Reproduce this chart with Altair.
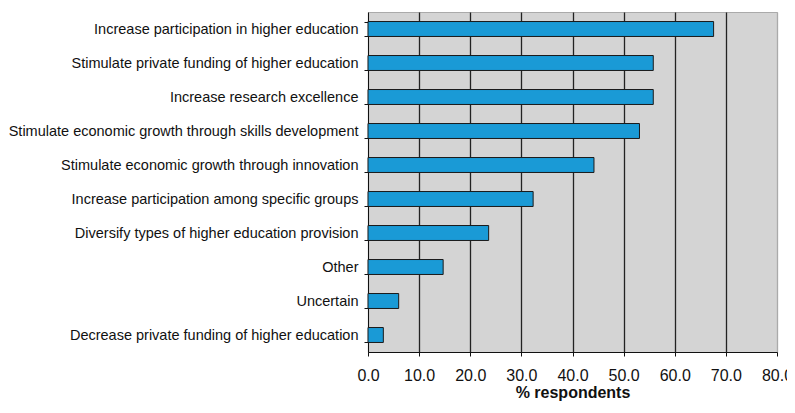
import altair as alt
import pandas as pd

categories = [
    "Increase participation in higher education",
    "Stimulate private funding of higher education",
    "Increase research excellence",
    "Stimulate economic growth through skills development",
    "Stimulate economic growth through innovation",
    "Increase participation among specific groups",
    "Diversify types of higher education provision",
    "Other",
    "Uncertain",
    "Decrease private funding of higher education",
]
values = [67.6, 55.8, 55.8, 53.1, 44.2, 32.3, 23.6, 14.7, 6.0, 3.0]
x_ticks = [0, 10, 20, 30, 40, 50, 60, 70, 80]

df = pd.DataFrame({"category": categories, "value": values})

FONT = "Liberation Sans"

chart = (
    alt.Chart(df)
    .mark_bar(color="#1a9ad6", stroke="#1a1a1a", strokeWidth=1)
    .encode(
        x=alt.X(
            "value:Q",
            scale=alt.Scale(domain=[0, 80], nice=False),
            axis=alt.Axis(
                values=x_ticks,
                format=".1f",
                title="% respondents",
                titleFont=FONT,
                titleFontSize=16,
                titleFontWeight="bold",
                titleColor="#111",
                titlePadding=1,
                labelFont=FONT,
                labelFontSize=16,
                labelColor="#111",
                labelPadding=11,
                tickSize=4,
                tickColor="#111",
                domainColor="#111",
                grid=True,
                gridColor={"condition": {"test": "datum.value === 80 || datum.value === 0", "value": "#aaaaaa"}, "value": "#222222"},
                gridWidth=1.3,
                labelFlush=False,
            ),
        ),
        y=alt.Y(
            "category:N",
            sort=categories,
            scale=alt.Scale(paddingInner=0.56, paddingOuter=0.28),
            axis=alt.Axis(
                title=None,
                labelFont=FONT,
                labelFontSize=14.5,
                labelColor="#111",
                labelPadding=6,
                labelLimit=400,
                tickSize=4,
                tickColor="#111",
                domainColor="#111",
                tickBand="extent",
                grid=False,
            ),
        ),
    )
    .properties(
        width=409,
        height=340,
        autosize=alt.AutoSizeParams(type="none"),
        padding={"left": 360, "top": 4, "right": 10, "bottom": 53},
        background="white",
    )
    .configure_view(fill="#d4d4d4", stroke="#aaaaaa")
)

chart.save("out.html", embed_options={"renderer": "svg", "actions": False})
